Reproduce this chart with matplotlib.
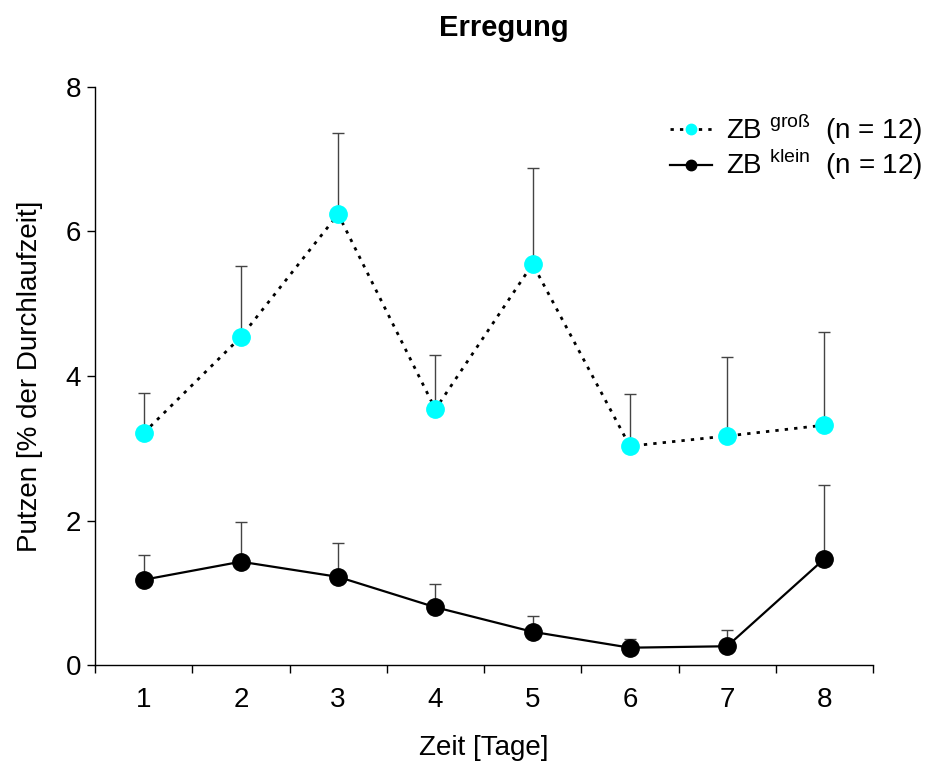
import numpy as np
import matplotlib.pyplot as plt
from matplotlib.ticker import FixedLocator, NullFormatter

plt.rcParams['font.family'] = ['Liberation Sans', 'DejaVu Sans']
plt.rcParams['mathtext.fontset'] = 'custom'
plt.rcParams['mathtext.rm'] = 'Liberation Sans'

# Werte
tage = [1, 2, 3, 4, 5, 6, 7, 8]
gross_mw = [3.21, 4.54, 6.24, 3.54, 5.55, 3.03, 3.17, 3.32]
gross_sem = [0.55, 0.98, 1.12, 0.75, 1.33, 0.72, 1.09, 1.29]
klein_mw = [1.18, 1.43, 1.22, 0.80, 0.46, 0.24, 0.26, 1.47]
klein_sem = [0.34, 0.55, 0.47, 0.32, 0.22, 0.12, 0.22, 1.02]

fig = plt.figure(figsize=(9.25, 7.61), dpi=100)
ax = fig.add_axes([0.1027, 0.1261, 0.8411, 0.7596])

# Fehlerbalken nur nach oben
ax.errorbar(tage, gross_mw, yerr=[np.zeros(len(tage)), gross_sem], fmt='none',
            ecolor='#444444', elinewidth=1.0, capsize=4, capthick=1.0, zorder=2)
ax.errorbar(tage, klein_mw, yerr=[np.zeros(len(tage)), klein_sem], fmt='none',
            ecolor='#444444', elinewidth=1.0, capsize=4, capthick=1.0, zorder=2)

ax.plot(tage, gross_mw, color='black', linestyle=(0, (1.2, 2.2)), linewidth=2.0,
        marker='o', markersize=12.5, markerfacecolor='#00FFFF',
        markeredgecolor='#00FFFF', zorder=3,
        label=r'ZB $^{\mathregular{groß}}$  (n = 12)')
ax.plot(tage, klein_mw, color='black', linestyle='-', linewidth=1.6,
        marker='o', markersize=12.5, markerfacecolor='black',
        markeredgecolor='black', zorder=3,
        label=r'ZB $^{\mathregular{klein}}$  (n = 12)')

ax.set_xlim(0.5, 8.5)
ax.set_ylim(0, 8)
ax.set_yticks([0, 2, 4, 6, 8])
ax.xaxis.set_major_locator(FixedLocator(np.arange(0.5, 9.0, 1.0)))
ax.xaxis.set_major_formatter(NullFormatter())
ax.xaxis.set_minor_locator(FixedLocator(tage))
ax.set_xticklabels([str(t) for t in tage], minor=True)
ax.tick_params(axis='x', which='major', direction='out', length=6, width=1)
ax.tick_params(axis='x', which='minor', length=0, labelsize=20, pad=16)
ax.tick_params(axis='y', direction='out', length=6, width=1, labelsize=20, pad=4)

for s in ['top', 'right']:
    ax.spines[s].set_visible(False)
for s in ['left', 'bottom']:
    ax.spines[s].set_linewidth(1.0)

ax.set_xlabel('Zeit [Tage]', fontsize=20, labelpad=16)
ax.set_ylabel('Putzen [% der Durchlaufzeit]', fontsize=20, labelpad=16)
fig.text(0.545, 0.963, 'Erregung', fontsize=21, fontweight='bold',
         ha='center', va='center')

ax.legend(loc='upper right', bbox_to_anchor=(1.095, 1.0), frameon=False,
          fontsize=20, handlelength=1.5, handletextpad=0.5, labelspacing=0.0,
          markerscale=0.6)

fig.savefig('out.png', dpi=100)
